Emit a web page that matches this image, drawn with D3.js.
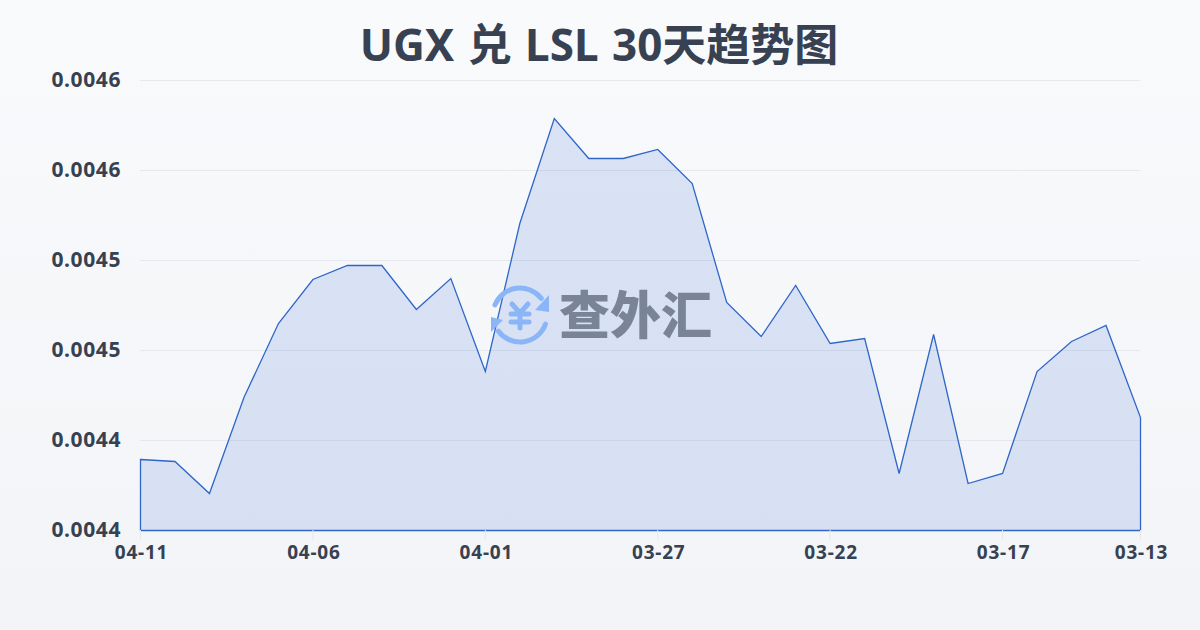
<!DOCTYPE html>
<html>
<head>
<meta charset="utf-8">
<script src="https://cdn.jsdelivr.net/npm/d3@7"></script>
<style>
  html, body { margin: 0; padding: 0; }
  body { width: 1200px; height: 630px; overflow: hidden; }
  text { font-family: "Noto Sans", "Noto Sans CJK SC", sans-serif; }
</style>
</head>
<body>
<div id="chart"></div>
<script>
// Chart data, newest day first as in the original
const dates = ["04-11", "04-10", "04-09", "04-08", "04-07", "04-06", "04-05", "04-04", "04-03", "04-02",
    "04-01", "03-31", "03-30", "03-29", "03-28", "03-27", "03-26", "03-25", "03-24", "03-23",
    "03-22", "03-21", "03-20", "03-19", "03-18", "03-17", "03-16", "03-15", "03-14", "03-13"];
const rates = [0.00438944, 0.00438833, 0.00437056, 0.00442389, 0.004465, 0.00448944, 0.00449722, 0.00449722, 0.00447278, 0.00449,
    0.00443833, 0.00452056, 0.00457889, 0.00455667, 0.00455667, 0.00456167, 0.00454278, 0.00447667, 0.00445778, 0.00448611,
    0.00445389, 0.00445667, 0.00438167, 0.00445889, 0.00437611, 0.00438167, 0.00443833, 0.004455, 0.00446389, 0.00441278];
const yTicks = [0.00435, 0.0044, 0.00445, 0.0045, 0.00455, 0.0046];
const yTickLabels = ["0.0044", "0.0044", "0.0045", "0.0045", "0.0046", "0.0046"];
const xTickLabels = ["04-11", "04-06", "04-01", "03-27", "03-22", "03-17", "03-13"];

// Set up dimensions
const margin = {top: 80, right: 60, bottom: 100, left: 140};
const width = 1200 - margin.left - margin.right;
const height = 630 - margin.top - margin.bottom;

const root = d3.select("#chart")
    .append("svg")
    .attr("width", 1200)
    .attr("height", 630)
    .style("display", "block");

const defs = root.append("defs");

const bg = defs.append("linearGradient")
    .attr("id", "bg")
    .attr("x1", 0).attr("y1", 0).attr("x2", 0).attr("y2", 1);
bg.append("stop").attr("offset", "0%").attr("stop-color", "#f8fafc");
bg.append("stop").attr("offset", "100%").attr("stop-color", "#f2f4f7");

const areaFill = defs.append("linearGradient")
    .attr("id", "areaFill")
    .attr("x1", 0).attr("y1", 0).attr("x2", 0).attr("y2", 1);
areaFill.append("stop").attr("offset", "0%").attr("stop-color", "#2f63d0").attr("stop-opacity", 0.15);
areaFill.append("stop").attr("offset", "100%").attr("stop-color", "#2f63d0").attr("stop-opacity", 0.14);

root.append("rect")
    .attr("width", 1200)
    .attr("height", 630)
    .attr("fill", "url(#bg)");

const svg = root.append("g")
    .attr("transform", `translate(${margin.left},${margin.top})`);

// Set up scales
const x = d3.scalePoint()
    .domain(dates)
    .range([0, width]);

const y = d3.scaleLinear()
    .domain([0.00435, 0.0046])
    .range([height, 0]);

// Grid lines
svg.append("g")
    .selectAll("line")
    .data(yTicks)
    .join("line")
    .attr("x1", 0)
    .attr("x2", width)
    .attr("y1", d => y(d) + 0.5)
    .attr("y2", d => y(d) + 0.5)
    .attr("stroke", "#e5e8ed")
    .attr("stroke-width", 1);

// Area, closed along the baseline so the outline runs round it
const area = d3.area()
    .x((d, i) => x(dates[i]))
    .y0(height)
    .y1(d => y(d));

svg.append("path")
    .datum(rates)
    .attr("transform", "translate(0.5,0.5)")
    .attr("fill", "url(#areaFill)")
    .attr("stroke", "#2f66c8")
    .attr("stroke-width", 1.3)
    .attr("d", area);

// Add y-axis
const yAxis = svg.append("g")
    .call(d3.axisLeft(y).tickValues(yTicks).tickFormat((d, i) => yTickLabels[i]).tickSize(0).tickPadding(19));
yAxis.select(".domain").remove();
yAxis.selectAll("text")
    .attr("fill", "#374151")
    .style("font-size", "21px")
    .style("letter-spacing", "0.6px")
    .style("font-weight", 700);

// Add x-axis
const xAxis = svg.append("g")
    .attr("transform", `translate(0,${height})`)
    .call(d3.axisBottom(x).tickValues(xTickLabels).tickSize(10).tickPadding(6));
xAxis.select(".domain").remove();
xAxis.selectAll("line").attr("stroke", "#e5e8ed");
xAxis.selectAll("text")
    .attr("fill", "#374151")
    .attr("dx", 1)
    .style("font-size", "19px")
    .style("letter-spacing", "0.8px")
    .style("font-weight", 700);

// Add title
root.append("text")
    .attr("x", 599)
    .attr("y", 61)
    .attr("text-anchor", "middle")
    .attr("fill", "#374151")
    .style("font-size", "44px")
    .style("word-spacing", "2px")
    .style("font-weight", 700)
    .text("UGX 兑 LSL 30天趋势图");

// Watermark: exchange icon plus site name
const iconColor = "#8ab5f7";
const mark = root.append("g").attr("transform", "translate(520,315)");
const ring = d3.arc().innerRadius(24.5).outerRadius(29.5).cornerRadius(2.5);
mark.append("path")
    .attr("fill", iconColor)
    .attr("d", ring({startAngle: -1.28, endAngle: 1.0}));
mark.append("path")
    .attr("fill", iconColor)
    .attr("d", ring({startAngle: 1.82, endAngle: 4.17}));
mark.append("path")
    .attr("fill", iconColor)
    .attr("d", d3.line()([[29, -20], [29, -3], [15, -5]]));
mark.append("path")
    .attr("fill", iconColor)
    .attr("d", d3.line()([[-29, 2], [-29, 17], [-17, 5]]));
// yen sign drawn as strokes
mark.append("path")
    .attr("fill", "none")
    .attr("stroke", iconColor)
    .attr("stroke-width", 5)
    .attr("stroke-linecap", "round")
    .attr("stroke-linejoin", "round")
    .attr("d", "M-8,-11L0,-2L8,-11M-9,-1H9M-9,7H9M0,-2V13");

root.append("text")
    .attr("x", 559)
    .attr("y", 334)
    .attr("fill", "#7a8497")
    .style("font-size", "51px")
    .style("font-weight", 900)
    .text("查外汇");
</script>
</body>
</html>
